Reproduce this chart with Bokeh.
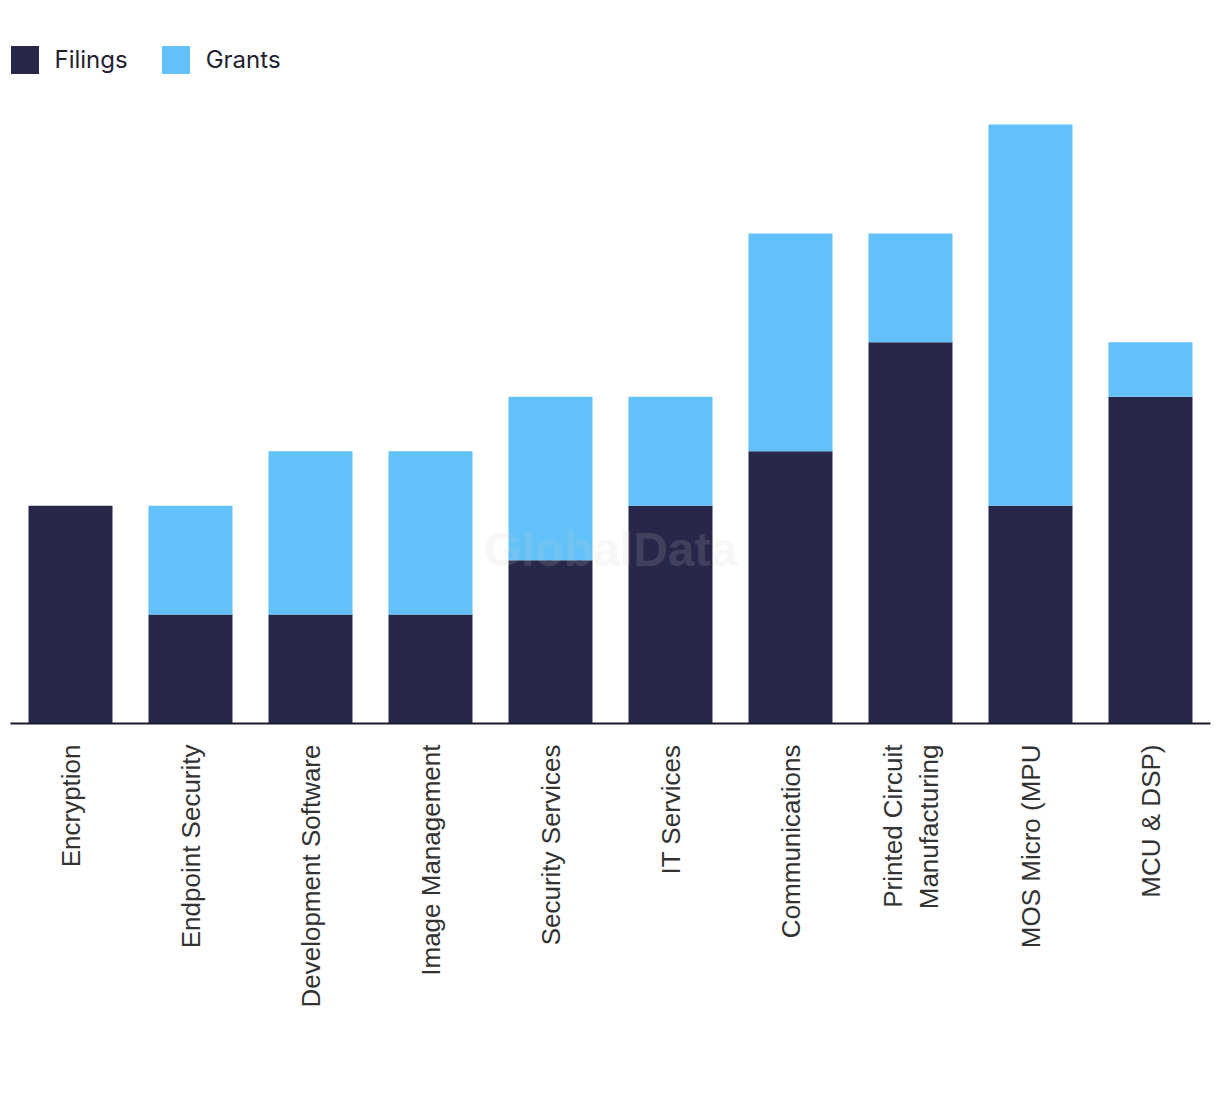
import math
from bokeh.plotting import figure
from bokeh.models import FactorRange, Range1d, Legend, LegendItem, Label, ColumnDataSource
from bokeh.embed import file_html
from bokeh.resources import INLINE

categories = ["Encryption", "Endpoint Security", "Development Software", "Image Management",
              "Security Services", "IT Services", "Communications",
              "Printed Circuit\nManufacturing", "MOS Micro (MPU", "MCU & DSP)"]
filings = [4, 2, 2, 2, 3, 4, 5, 7, 4, 6]
grants = [0, 2, 3, 3, 3, 2, 4, 2, 7, 1]
series = ["Filings", "Grants"]
colors = ["#27274A", "#62C1F9"]

source = ColumnDataSource(dict(cat=categories, Filings=filings, Grants=grants))

# frame spans 681 px; tallest bar (11) reaches 599 px, leaving room for legend at top
y_end = 11 * 681 / 599

p = figure(x_range=FactorRange(*categories, range_padding=0), y_range=Range1d(0, y_end),
           width=1220, height=1090, output_backend="svg", toolbar_location=None,
           min_border_left=10, min_border_right=10, min_border_top=42, min_border_bottom=367)

renderers = p.vbar_stack(series, x="cat", width=0.7, color=colors, source=source, line_color=None)

p.yaxis.visible = False
p.xgrid.visible = False
p.ygrid.visible = False
p.outline_line_color = None
p.background_fill_color = "white"

ax = p.xaxis[0]
ax.major_label_orientation = math.pi / 2
ax.major_tick_line_color = None
ax.minor_tick_line_color = None
ax.axis_line_color = "#1B1B2F"
ax.axis_line_width = 2
ax.major_label_standoff = 15
ax.major_label_text_font = "Liberation Sans"
ax.major_label_text_font_size = "26px"
ax.major_label_text_color = "#333333"

legend = Legend(items=[LegendItem(label=s, renderers=[r]) for s, r in zip(series, renderers)],
                orientation="horizontal", location=(-3.5, 681 - 35),
                glyph_width=35, glyph_height=35, label_standoff=13, spacing=30,
                padding=0, margin=0, border_line_color=None, background_fill_alpha=0,
                label_text_font="Inter", label_text_font_size="24px", label_text_color="#222233",
                label_height=35)
p.add_layout(legend)

wm = Label(x=5, y=3.2, text="GlobalData", text_align="center", text_baseline="middle",
           text_font="Liberation Sans", text_font_style="bold", text_font_size="48px",
           text_color="#d0d0d0", text_alpha=0.18)
p.add_layout(wm)

open("out.html", "w").write(file_html(p, INLINE))
